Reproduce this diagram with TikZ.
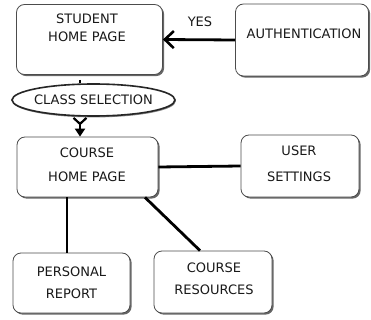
\documentclass[tikz,border=0pt]{standalone}
\usepackage{fontspec}
\setmainfont{DejaVu Sans}
\usetikzlibrary{arrows.meta,shapes.geometric,shadows}
\begin{document}
\begin{tikzpicture}[x=1pt,y=-1pt,
  box/.style={draw=black!70,line width=0.8pt,rounded corners=8pt,fill=white,
    drop shadow={shadow xshift=1.6pt,shadow yshift=-1.6pt,opacity=0.75,fill=black!80}},
  oval/.style={ellipse,draw=black!85,line width=1.6pt,fill=white,inner sep=0pt,
    drop shadow={shadow xshift=0.8pt,shadow yshift=-1.4pt,opacity=0.6,fill=black!80}},
  txt/.style={font=\fontsize{13}{15.6}\selectfont,text=black!90,align=center,inner sep=0pt},
  link/.style={line width=2.8pt,black}]
\useasboundingbox (0,0) rectangle (371,320);

% boxes
\node[box,minimum width=146pt,minimum height=70pt] (student) at (89.5,39.5) {};
\node[box,minimum width=133pt,minimum height=72pt] (auth) at (302,40) {};
\node[box,minimum width=141pt,minimum height=60pt] (course) at (87.5,167) {};
\node[box,minimum width=118pt,minimum height=62pt] (user) at (300,166) {};
\node[box,minimum width=117pt,minimum height=60pt] (personal) at (71.5,283) {};
\node[box,minimum width=118pt,minimum height=62pt] (resources) at (213,282) {};
\node[oval,minimum width=163pt,minimum height=32pt] (classsel) at (93.5,100) {};

% labels
\node[txt] (studentT) at (87,28) {STUDENT\\[2.9pt]HOME PAGE};
\node[txt] (authT) at (304,34) {AUTHENTICATION};
\node[txt] (yes) at (200,22) {YES};
\node[txt] (classT) at (93.5,99.5) {CLASS SELECTION};
\node[txt] (courseT) at (87,164.5) {COURSE\\[8.4pt]HOME PAGE};
\node[txt] (userT) at (299,164) {USER\\[10.4pt]SETTINGS};
\node[txt] (personalT) at (71.5,282.5) {PERSONAL\\[6.4pt]REPORT};
\node[txt] (resourcesT) at (214,279) {COURSE\\[6.4pt]RESOURCES};

% connectors
\draw[link,-{Straight Barb[length=9pt,width=17pt,line width=2.6pt]}]
  (auth.west) -- (student.east);
\coordinate (dotTop) at (80,80);
\draw[line width=2pt] (dotTop) -- (dotTop |- classsel.north);
\draw[line width=2.2pt,{Straight Barb[reversed,length=6pt,width=13pt]}-{Triangle[length=8pt,width=10pt]}]
  (classsel.south -| 80,0) -- (course.north -| 80,0);
\draw[link] (course.east) -- (user.west);
\draw[link] (course.south -| personal.north) ++(-4.5,0) coordinate (pr) -- (pr |- personal.north);
\draw[link] (course.south -| 145,0) -- (resources.north -| 200,0);
\end{tikzpicture}
\end{document}
